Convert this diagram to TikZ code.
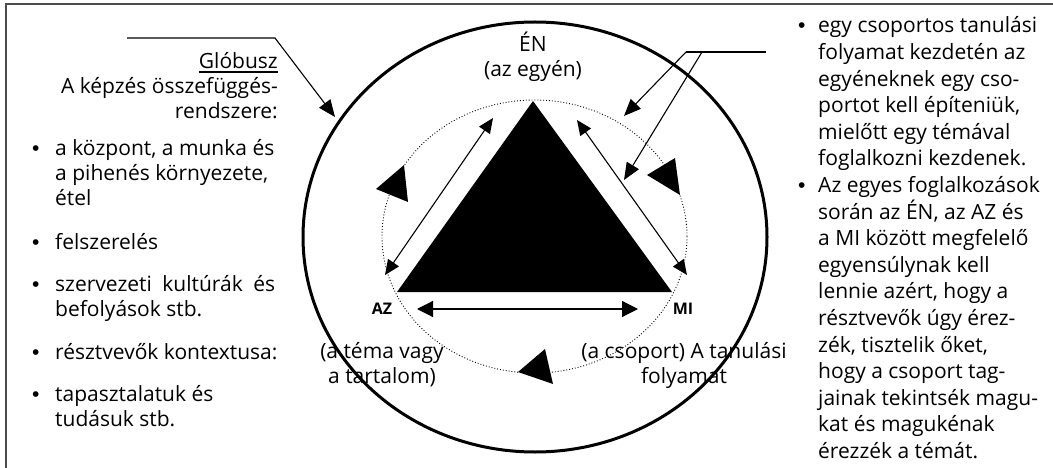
\documentclass[tikz,border=0pt]{standalone}
\usepackage{fontspec}
\setmainfont{Open Sans}
\newfontfamily\bulfont{Liberation Sans}
\usetikzlibrary{arrows.meta}
\newcommand\blt{\leavevmode\llap{\makebox[23pt][l]{{\bulfont\char"2022}}}}
\newcommand\bltr{\leavevmode\llap{\makebox[20pt][l]{{\bulfont\char"2022}}}}
\begin{document}
\begin{tikzpicture}[x=1pt,y=-1pt,
  conn/.style={line width=1.1pt},
  bigarrow/.style={line width=1.2pt, {Triangle[length=16pt,width=16pt]}-{Triangle[length=16pt,width=16pt]}},
  diagarrow/.style={line width=1.1pt, {Triangle[length=15pt,width=13pt]}-{Triangle[length=15pt,width=13pt]}},
  pointer/.style={line width=1.1pt, -{Triangle[length=17pt,width=14pt]}},
  txt/.style={inner sep=0pt, font=\fontsize{21}{25}\selectfont},
  rtxt/.style={inner sep=0pt, font=\fontsize{21}{26.6}\selectfont},
  lbl/.style={inner sep=0pt, font=\bfseries\fontsize{16}{18}\selectfont},
]
\useasboundingbox (0,0) rectangle (1053,468);
% frame
\draw[line width=1.5pt, black!70] (6,468) -- (6,4) -- (1053,4);
% ellipses
\draw[line width=3pt] (535,237) ellipse [x radius=232, y radius=215];
\draw[dotted, line width=0.9pt] (534.5,236.5) ellipse [x radius=152.5, y radius=136.5];
% triangle
\coordinate (T) at (533,101);
\coordinate (L) at (397,292);
\coordinate (R) at (672,292);
\fill (T) -- (L) -- (R) -- cycle;
% cycle arrowheads
\fill (376,189) -- (404,165) -- (408,202) -- cycle;
\fill (647,175) -- (675,158) -- (680,195) -- cycle;
\fill (518,372) -- (545,349) -- (553,384) -- cycle;
% double arrows
\coordinate (h1) at (417,309);
\coordinate (h2) at (638,309);
\draw[bigarrow] (h1) -- (h2);
\coordinate (dl1) at (493,118);
\coordinate (dl2) at (385,275);
\draw[diagarrow] (dl1) -- (dl2);
\coordinate (dr1) at (577,120);
\coordinate (dr2) at (687,275);
\draw[diagarrow] (dr1) -- (dr2);
% globusz pointer
\coordinate (g0) at (127,38);
\coordinate (g1) at (275,38);
\coordinate (g2) at (335,117);
\draw[pointer] (g0) -- (g1) -- (g2);
% right pointers
\coordinate (p0) at (766,52);
\coordinate (p1) at (686,52);
\coordinate (p2) at (624,116);
\coordinate (p3) at (702,52);
\coordinate (p4) at (624,180);
\draw[conn] (p0) -- (p1);
\draw[pointer] (p1) -- (p2);
\draw[pointer] (p3) -- (p4);
% left texts
\node[txt, anchor=base east] (glob) at (278,69) {Glóbusz};
\draw[line width=1.2pt] ([yshift=-3pt]glob.base west) -- ([yshift=-3pt]glob.base east);
\node[txt, anchor=base east] (kep) at (278,94) {\parbox[t]{260pt}{\raggedleft A képzés összefüggés-\\rendszere:}};
\node[txt, anchor=base west] (l1) at (55,156) {\parbox[t]{225pt}{\raggedright\blt a központ, a munka és\\a pihenés környezete,\\étel}};
\node[txt, anchor=base west] (l2) at (55,249) {\parbox[t]{225pt}{\raggedright\blt felszerelés}};
\node[txt, anchor=base west] (l3) at (55,291) {\parbox[t]{220pt}{\blt szervezeti\hfill kultúrák\hfill és\\befolyások stb.}};
\node[txt, anchor=base west] (l4) at (55,359) {\parbox[t]{225pt}{\raggedright\blt résztvevők kontextusa:}};
\node[txt, anchor=base west] (l5) at (55,401) {\parbox[t]{225pt}{\raggedright\blt tapasztalatuk és\\tudásuk stb.}};
% right texts
\node[rtxt, anchor=base west] (r1) at (818,33) {\parbox[t]{235pt}{\raggedright\bltr egy csoportos tanulási\\folyamat kezdetén az\\egyéneknek egy cso-\\portot kell építeniük,\\mielőtt egy témával\\foglalkozni kezdenek.}};
\node[rtxt, anchor=base west] (r2) at (818,192.6) {\parbox[t]{235pt}{\raggedright\bltr Az egyes foglalkozások\\során az ÉN, az AZ és\\a MI között megfelelő\\egyensúlynak kell\\lennie azért, hogy a\\résztvevők úgy érez-\\zék, tisztelik őket,\\hogy a csoport tag-\\jainak tekintsék magu-\\kat és magukénak\\érezzék a témát.}};
% middle labels
\node[txt, anchor=base] (en) at (533,52) {\parbox[t]{200pt}{\centering ÉN\\(az egyén)}};
\node[txt, anchor=base] (tema) at (382,358) {\parbox[t]{200pt}{\centering (a téma vagy\\a tartalom)}};
\node[txt, anchor=base] (csop) at (684,358) {\parbox[t]{240pt}{\centering (a csoport) A tanulási\\folyamat}};
\node[lbl] (az) at (382,309) {AZ};
\node[lbl] (mi) at (683,309) {MI};
\end{tikzpicture}
\end{document}
